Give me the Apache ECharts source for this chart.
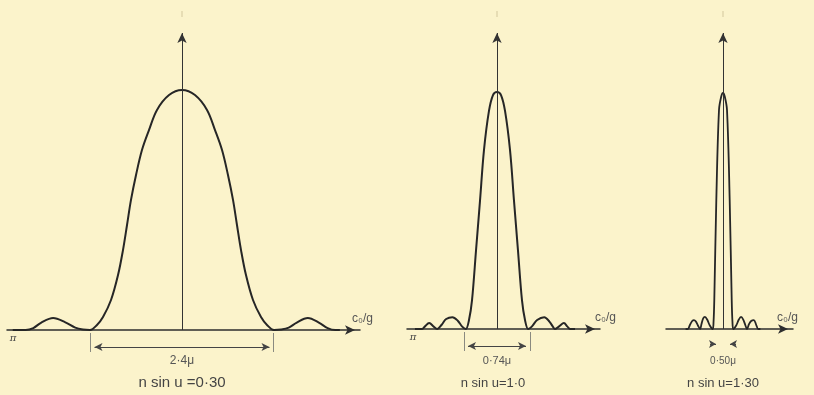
<!DOCTYPE html>
<html>
<head>
<meta charset="utf-8">
<script src="https://cdn.jsdelivr.net/npm/echarts@6/dist/echarts.min.js"></script>
<style>html,body{margin:0;padding:0;background:#fbf3cb;}#c{width:814px;height:395px;}</style>
</head>
<body>
<div id="c"></div>
<script>
// ---- data (x in microns from the centre, I relative to peak) ----
const p1X = [-2.22,-2.05,-1.95,-1.85,-1.69,-1.53,-1.40,-1.30,-1.207,-1.115,-1.036,-0.931,-0.839,-0.774,-0.721,-0.669,-0.603,-0.525,-0.433,-0.328,-0.170,0,0.170,0.328,0.433,0.525,0.603,0.669,0.721,0.774,0.839,0.931,1.036,1.115,1.207,1.30,1.40,1.50,1.65,1.80,1.91,2.01,2.07];
const p1I = [0,0,0.008,0.03,0.05,0.032,0.01,0.002,0,0.021,0.054,0.125,0.229,0.333,0.4375,0.542,0.646,0.75,0.833,0.917,0.979,1,0.979,0.917,0.833,0.75,0.646,0.542,0.4375,0.333,0.229,0.125,0.054,0.021,0,0.002,0.01,0.03,0.05,0.03,0.008,0,0];

const p2X = [-0.92,-0.84,-0.81,-0.76,-0.71,-0.67,-0.62,-0.57,-0.50,-0.44,-0.39,-0.35,-0.314,-0.28,-0.235,-0.19,-0.146,-0.09,-0.045,0,0.045,0.09,0.146,0.19,0.235,0.28,0.314,0.35,0.39,0.45,0.53,0.59,0.63,0.65,0.70,0.75,0.79,0.82,0.875];
const p2I = [0,0,0.01,0.025,0.01,0,0.018,0.042,0.05,0.035,0.01,0,0.038,0.122,0.333,0.544,0.755,0.92,0.987,1,0.987,0.92,0.755,0.544,0.333,0.122,0.038,0,0.01,0.038,0.05,0.03,0.008,0,0.012,0.025,0.01,0,0];

const p3X = [-0.85,-0.80,-0.75,-0.70,-0.66,-0.62,-0.57,-0.52,-0.49,-0.45,-0.41,-0.36,-0.30,-0.235,-0.215,-0.198,-0.152,-0.091,-0.04,0,0.04,0.091,0.152,0.198,0.215,0.235,0.30,0.36,0.41,0.46,0.51,0.545,0.59,0.64,0.70,0.75,0.80,0.85];
const p3I = [0,0,0.018,0.034,0.038,0.033,0.015,0,0.02,0.045,0.051,0.04,0.015,0,0.03,0.123,0.547,0.928,0.985,1,0.985,0.928,0.547,0.123,0.03,0,0.015,0.04,0.051,0.04,0.015,0,0.02,0.034,0.038,0.02,0,0];

const dimValues = [2.4, 0.74, 0.50];
const dimLabels = ['2·4μ', '0·74μ', '0·50μ'];
const captions = ['n sin u =0·30', 'n sin u=1·0', 'n sin u=1·30'];
const axisName = 'c₀/g';

// ---- layout (pixels) ----
const layout = [
  {left:7,   right:360, center:182, ppu:76.25, base:330, unitY:240, nameGap:-8,  dimY:347, capFont:15, dimFont:12, pi:true},
  {left:407, right:600, center:497, ppu:89.19, base:329, unitY:237, nameGap:-5,  dimY:346, capFont:13, dimFont:11, pi:true},
  {left:666, right:793, center:723, ppu:44.0,  base:329, unitY:236, nameGap:-16, dimY:344, capFont:13, dimFont:10, pi:false}
];
const TOP = 20, BOTTOM = 354, ARROW_TIP = 28;
const seriesData = [[p1X,p1I],[p2X,p2I],[p3X,p3I]];

const grids = [], xAxes = [], yAxes = [], series = [], graphics = [];
layout.forEach((L, i) => {
  grids.push({left:L.left, top:TOP, width:L.right-L.left, height:BOTTOM-TOP});
  const ymax = (L.base-TOP)/L.unitY, ymin = -(BOTTOM-L.base)/L.unitY;
  xAxes.push({
    gridIndex:i, type:'value',
    min:(L.left-L.center)/L.ppu, max:(L.right-L.center)/L.ppu,
    axisLine:{show:true, onZero:true, symbol:['none','arrow'], symbolSize:[7,10], symbolOffset:[0,-5],
      lineStyle:{color:'#2e2e2e', width:1.5}},
    axisTick:{show:false}, axisLabel:{show:false}, splitLine:{show:false},
    name:axisName, nameLocation:'end', nameGap:L.nameGap,
    nameTextStyle:{color:'#555', fontSize:12, fontFamily:'Liberation Sans', align:'left', verticalAlign:'bottom', padding:[0,0,5,0]}
  });
  yAxes.push({gridIndex:i, type:'value', min:ymin, max:ymax, show:false});

  const yArrow = (L.base - (ARROW_TIP+5))/L.unitY;
  const d = dimValues[i];
  const yDim = -(L.dimY - L.base)/L.unitY;
  const inset = 4/L.ppu;
  const ml = [
    [{coord:[0,0], symbol:'none', lineStyle:{color:'#333', width:1, type:'solid'}},
     {coord:[0,yArrow], symbol:'arrow', symbolSize:[7,10]}]
  ];
  const tickTop = -3/L.unitY, tickBot = -22/L.unitY;
  if (i < 2) {
    ml.push([{coord:[-d/2+inset, yDim], symbol:'arrow', symbolSize:[6,8], lineStyle:{color:'#444', width:1, type:'solid'}},
             {coord:[d/2-inset, yDim], symbol:'arrow', symbolSize:[6,8]}]);
    ml.push([{coord:[-d/2, tickTop], symbol:'none', lineStyle:{color:'#8a8a80', width:1, type:'solid'}},
             {coord:[-d/2, tickBot], symbol:'none'}]);
    ml.push([{coord:[d/2, tickTop], symbol:'none', lineStyle:{color:'#8a8a80', width:1, type:'solid'}},
             {coord:[d/2, tickBot], symbol:'none'}]);
  } else {
    const a = 13/L.ppu, b = 7/L.ppu;
    ml.push([{coord:[-a, yDim], symbol:'none', lineStyle:{color:'#444', width:1, type:'solid'}},
             {coord:[-b, yDim], symbol:'arrow', symbolSize:[6,7]}]);
    ml.push([{coord:[a, yDim], symbol:'none', lineStyle:{color:'#444', width:1, type:'solid'}},
             {coord:[b, yDim], symbol:'arrow', symbolSize:[6,7]}]);
  }
  const [xs, is] = seriesData[i];
  series.push({
    type:'line', xAxisIndex:i, yAxisIndex:i,
    data: xs.map((x,k)=>[x, is[k]]),
    smooth:0.35, showSymbol:false, clip:false, silent:true, animation:false,
    lineStyle:{color:'#262626', width: i===2 ? 1.8 : 2},
    markLine:{silent:true, animation:false, label:{show:false}, symbol:['none','none'], data:ml}
  });

  const txt = (text, x, y, font, fill) => graphics.push({type:'text', x, y, silent:true,
    style:{text, fill, font, align:'center', verticalAlign:'middle', textAlign:'center', textVerticalAlign:'middle'}});
  txt(dimLabels[i], L.center, 361, L.dimFont+'px "Liberation Sans"', '#555');
  txt(captions[i], i===1 ? L.center-4 : L.center, 383, L.capFont+'px "Liberation Sans"', '#444');
  txt('I', L.center, 15, '9px "Liberation Sans"', '#cfc49a');
  if (L.pi) txt('π', L.left+6, L.base+8, 'italic 10px "DejaVu Serif"', '#444');
});

const chart = echarts.init(document.getElementById('c'), null, {renderer:'canvas'});
chart.setOption({
  backgroundColor:'#fbf3cb',
  animation:false,
  grid:grids, xAxis:xAxes, yAxis:yAxes, series, graphic:graphics
});
</script>
</body>
</html>
